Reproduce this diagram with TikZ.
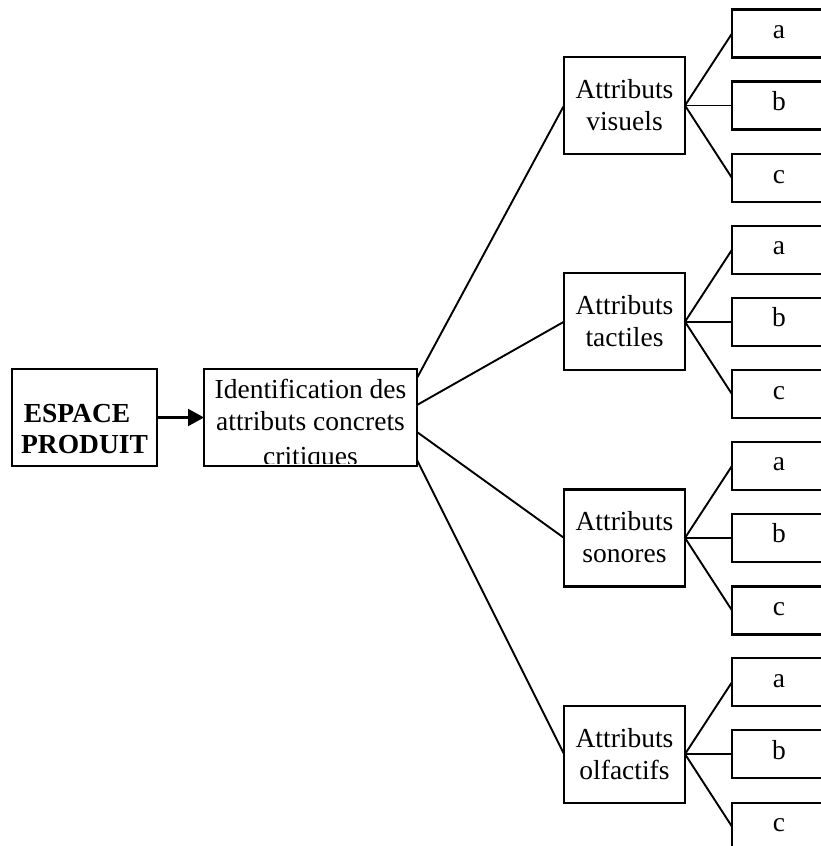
\documentclass[tikz,border=0pt]{standalone}
\usepackage{fontspec}
\setmainfont{Liberation Serif}
\usetikzlibrary{arrows.meta,calc}

\begin{document}
\begin{tikzpicture}[x=1pt,y=-1pt,
  every node/.style={font=\fontsize{27.5}{32}\selectfont},
  box/.style={draw, rectangle, line width=2.2pt, inner sep=0pt, outer sep=0pt},
  mainbox/.style={box, minimum width=145pt, minimum height=97pt},
  idbox/.style={box, minimum width=213pt, minimum height=97pt},
  attrbox/.style={box, minimum width=121pt, minimum height=97pt},
  leaf/.style={box, minimum width=94pt, minimum height=48pt,
               text height=10pt, text depth=0pt},
  txt/.style={anchor=base, inner sep=0pt},
  link/.style={line width=1.9pt},
  feed/.style={line width=2.1pt, -{Triangle[length=16pt,width=17pt]}}
]
\useasboundingbox (0,0) rectangle (821,846);
\clip (0,0) rectangle (821,846);

% starting block and the identification step
\node[mainbox] (esp) at (84.5,417.5) {};
\node[txt, font=\fontsize{27.5}{32}\selectfont\bfseries] (esp-l1) at (77,422) {ESPACE};
\node[txt, font=\fontsize{27.5}{32}\selectfont\bfseries] (esp-l2) at (84.5,453) {PRODUIT};

\node[idbox] (idn) at (310.5,417.5) {};
\begin{scope}
  \clip (idn.north west) rectangle ($(idn.south east)+(0,-3)$);
  \node[txt] (idn-l1) at (310.5,398) {Identification des};
  \node[txt] (idn-l2) at (310.5,430) {attributs concrets};
  \node[txt] (idn-l3) at (310.5,465) {critiques};
\end{scope}

\draw[feed] (esp.east) -- (idn.west);

% four attribute families, each with three sub-items
\foreach \k/\nm/\word/\oy in {0/vis/visuels/-39.5, 1/tac/tactiles/-12.5,
                              2/son/sonores/14.5, 3/olf/olfactifs/42.5} {
  \pgfmathsetmacro\cy{105.5+216.2*\k}
  \node[attrbox] (\nm) at (624.5,\cy) {};
  \node[txt] (\nm-l1) at (624.5,\cy-7) {Attributs};
  \node[txt] (\nm-l2) at (624.5,\cy+25) {\word};
  \draw[link] ($(idn.east)+(0,\oy)$) -- (\nm.west);
  \foreach \s/\dy in {a/-72, b/0, c/72.5} {
    \node[leaf] (\nm-\s) at (779,\cy+\dy) {\s};
    \draw[link] (\nm.east) -- (\nm-\s.west);
  }
}
\end{tikzpicture}
\end{document}
